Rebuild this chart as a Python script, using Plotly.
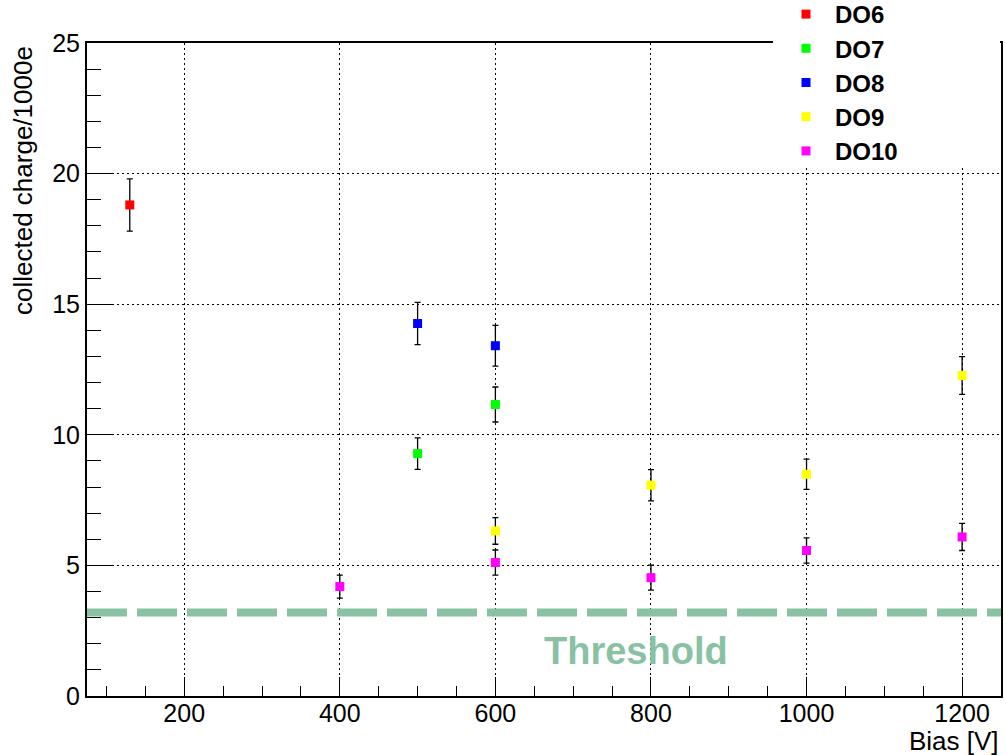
import plotly.graph_objects as go

# ---- data ----
series_names = ["DO6", "DO7", "DO8", "DO9", "DO10"]
series_colors = ["#ff0000", "#00ff00", "#0000ff", "#ffff00", "#ff00ff"]

do6_bias = [130]
do6_charge = [18.8]
do6_err = [1.0]

do7_bias = [500, 600]
do7_charge = [9.28, 11.16]
do7_err = [0.6, 0.67]

do8_bias = [500, 600]
do8_charge = [14.26, 13.41]
do8_err = [0.81, 0.78]

do9_bias = [600, 800, 1000, 1200]
do9_charge = [6.32, 8.07, 8.49, 12.27]
do9_err = [0.51, 0.6, 0.58, 0.72]

do10_bias = [400, 600, 800, 1000, 1200]
do10_charge = [4.19, 5.11, 4.53, 5.57, 6.09]
do10_err = [0.44, 0.48, 0.48, 0.48, 0.52]

threshold_value = 3.2
threshold_label = "Threshold"
threshold_label_pos = [781, 1.71]

x_range = [75, 1250]
y_range = [0, 25]
x_title = "Bias [V]"
y_title = "collected charge/1000e"

all_bias = [do6_bias, do7_bias, do8_bias, do9_bias, do10_bias]
all_charge = [do6_charge, do7_charge, do8_charge, do9_charge, do10_charge]
all_err = [do6_err, do7_err, do8_err, do9_err, do10_err]

FONT = "Liberation Sans, Arial, Helvetica, sans-serif"
GREEN = "#88c2a3"

W, H = 1006, 755
ML, MR, MT, MB = 87, 5, 43, 59
PW = W - ML - MR
PH = H - MT - MB


def px_to_paper_x(px):
    return (px - ML) / PW


def px_to_paper_y(py):
    return (H - MB - py) / PH


fig = go.Figure()

# threshold line
fig.add_trace(go.Scatter(
    x=x_range, y=[threshold_value, threshold_value], mode="lines",
    line=dict(color=GREEN, width=8, dash="40px,10px"),
    showlegend=False, hoverinfo="skip", cliponaxis=True))

for name, color, xs, ys, es in zip(series_names, series_colors, all_bias, all_charge, all_err):
    fig.add_trace(go.Scatter(
        x=xs, y=ys, mode="markers", name=name,
        marker=dict(symbol="square", size=9, color=color, line=dict(width=0)),
        error_y=dict(type="data", array=es, visible=True, color="black",
                     thickness=1.3, width=3),
    ))

fig.add_annotation(
    x=threshold_label_pos[0], y=threshold_label_pos[1], xref="x", yref="y",
    text="<b>" + threshold_label + "</b>", showarrow=False,
    font=dict(family=FONT, size=38, color=GREEN),
    xanchor="center", yanchor="middle")

# axis titles
fig.add_annotation(
    x=1.0, y=px_to_paper_y(741), xref="paper", yref="paper",
    text=x_title, showarrow=False, xanchor="right", yanchor="middle",
    font=dict(family=FONT, size=26, color="black"))
fig.add_annotation(
    x=px_to_paper_x(23), y=px_to_paper_y(181), xref="paper", yref="paper",
    text=y_title, showarrow=False, textangle=-90, xanchor="center", yanchor="middle",
    font=dict(family=FONT, size=26, color="black"))

# white legend box covering the frame top-right
fig.add_shape(type="rect", xref="paper", yref="paper",
              x0=px_to_paper_x(773), x1=px_to_paper_x(1000),
              y0=px_to_paper_y(168), y1=px_to_paper_y(-5),
              fillcolor="white", line=dict(width=0), layer="above")

fig.update_xaxes(
    range=x_range, showline=True, linecolor="black", linewidth=2, mirror=True,
    ticks="inside", ticklen=19, tickwidth=1.3, tickcolor="black",
    tick0=0, dtick=200,
    minor=dict(ticks="inside", ticklen=10, tickwidth=1.3, tickcolor="black",
               dtick=50, tick0=0, showgrid=False),
    showgrid=True, gridcolor="black", gridwidth=1, griddash="2px,3px",
    zeroline=False, ticklabelstandoff=-6,
    tickfont=dict(family=FONT, size=25, color="black"))
fig.update_yaxes(
    range=y_range, showline=True, linecolor="black", linewidth=2, mirror=True,
    ticks="inside", ticklen=27, tickwidth=1.3, tickcolor="black",
    tick0=0, dtick=5,
    minor=dict(ticks="inside", ticklen=14, tickwidth=1.3, tickcolor="black",
               dtick=1, tick0=0, showgrid=False),
    showgrid=True, gridcolor="black", gridwidth=1, griddash="2px,3px",
    zeroline=False,
    tickfont=dict(family=FONT, size=25, color="black"))

fig.update_layout(
    width=W, height=H,
    margin=dict(l=ML, r=MR, t=MT, b=MB, pad=0, autoexpand=False),
    paper_bgcolor="white", plot_bgcolor="white",
    showlegend=True,
    legend=dict(
        x=px_to_paper_x(777), y=px_to_paper_y(-8), xanchor="left", yanchor="top",
        bgcolor="rgba(0,0,0,0)", borderwidth=0, itemwidth=48,
        font=dict(family=FONT, size=24, color="black", weight="bold"),
        tracegroupgap=0),
    font=dict(family=FONT),
)

fig.write_html("out.html")
